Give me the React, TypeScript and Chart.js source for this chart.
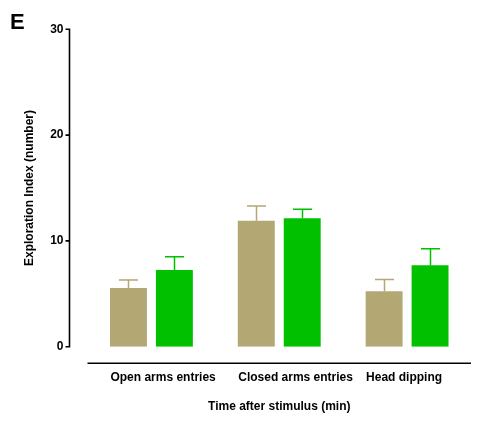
import React, { useEffect, useRef } from "react";
import { Chart, registerables } from "chart.js";

Chart.register(...registerables);

const categories = ["Open arms entries", "Closed arms entries", "Head dipping"];
const controlMeans = [5.55, 11.9, 5.25];
const controlErrors = [0.75, 1.4, 1.1];
const treatedMeans = [7.25, 12.15, 7.7];
const treatedErrors = [1.25, 0.85, 1.55];
const yTicks = [0, 10, 20, 30];

const TAN = "#B3A774";
const GREEN = "#00C000";
const FONT = "'Liberation Sans', Arial, Helvetica, sans-serif";

// Upward-only error bars with a cap, drawn over each bar.
const errorBarPlugin = {
  id: "errorBars",
  afterDatasetsDraw(chart: any) {
    const { ctx } = chart;
    const yScale = chart.scales.y;
    const errs = [controlErrors, treatedErrors];
    chart.data.datasets.forEach((ds: any, di: number) => {
      const meta = chart.getDatasetMeta(di);
      meta.data.forEach((bar: any, i: number) => {
        const v = ds.data[i];
        const top = yScale.getPixelForValue(v + errs[di][i]);
        const base = yScale.getPixelForValue(v);
        const x = Math.round(bar.x) + 0.5;
        ctx.save();
        ctx.strokeStyle = ds.backgroundColor;
        ctx.lineWidth = 1.5;
        ctx.beginPath();
        ctx.moveTo(x, base);
        ctx.lineTo(x, top);
        ctx.moveTo(x - 9.5, top);
        ctx.lineTo(x + 9.5, top);
        ctx.stroke();
        ctx.restore();
      });
    });
  },
};

// Offset axis lines (Prism style) and the panel letter.
const axesPlugin = {
  id: "offsetAxes",
  afterDraw(chart: any) {
    const { ctx, chartArea } = chart;
    const yScale = chart.scales.y;
    const ax = chartArea.left - 18;
    ctx.save();
    ctx.strokeStyle = "#000";
    ctx.lineWidth = 1.6;
    ctx.beginPath();
    ctx.moveTo(ax, yScale.getPixelForValue(30));
    ctx.lineTo(ax, yScale.getPixelForValue(0));
    yTicks.forEach((t) => {
      const py = yScale.getPixelForValue(t);
      ctx.moveTo(ax - 4, py);
      ctx.lineTo(ax + 0.8, py);
    });
    const xy = chartArea.bottom + 16.5;
    ctx.moveTo(chartArea.left, xy);
    ctx.lineTo(chartArea.right, xy);
    ctx.stroke();

    ctx.fillStyle = "#000";
    ctx.font = `bold 22px ${FONT}`;
    ctx.textAlign = "left";
    ctx.textBaseline = "alphabetic";
    ctx.fillText("E", 10, 29);
    ctx.restore();
  },
};

export default function App() {
  const canvasRef = useRef<HTMLCanvasElement | null>(null);

  useEffect(() => {
    const canvas = canvasRef.current;
    if (!canvas) return;
    const chart = new Chart(canvas, {
      type: "bar",
      data: {
        labels: categories,
        datasets: [
          {
            label: "Control",
            data: controlMeans,
            backgroundColor: TAN,
            borderWidth: 0,
            categoryPercentage: 0.71875,
            barPercentage: 0.804,
          },
          {
            label: "Stimulus",
            data: treatedMeans,
            backgroundColor: GREEN,
            borderWidth: 0,
            categoryPercentage: 0.71875,
            barPercentage: 0.804,
          },
        ],
      },
      options: {
        responsive: false,
        animation: false,
        events: [],
        layout: { padding: { top: 29.3, right: 18, bottom: 0, left: 0 } },
        plugins: {
          legend: { display: false },
          tooltip: { enabled: false },
        },
        scales: {
          x: {
            type: "category",
            offset: true,
            grid: { display: false, drawTicks: false },
            border: { display: false },
            ticks: {
              color: "#000",
              font: { family: FONT, size: 12, weight: "bold" },
              align: "start",
              labelOffset: -41,
              padding: 23.8,
              maxRotation: 0,
              autoSkip: false,
            },
            title: {
              display: true,
              text: "Time after stimulus (min)",
              color: "#000",
              font: { family: FONT, size: 12, weight: "bold" },
              padding: { top: 0, bottom: 8.1 },
            },
            afterFit(scale: any) {
              scale.height = 75.3;
              scale.paddingLeft = 0;
              scale.paddingRight = 0;
            },
          },
          y: {
            min: 0,
            max: 30,
            grid: { display: false, drawTicks: false },
            border: { display: false },
            afterBuildTicks(scale: any) {
              scale.ticks = yTicks.map((v) => ({ value: v }));
            },
            ticks: {
              color: "#000",
              font: { family: FONT, size: 12, weight: "bold" },
              padding: 24,
            },
            title: {
              display: true,
              text: "Exploration Index (number)",
              color: "#000",
              font: { family: FONT, size: 12, weight: "bold" },
              padding: { top: 22.8, bottom: 0 },
            },
            afterFit(scale: any) {
              scale.width = 87.5;
              scale.paddingTop = 0;
              scale.paddingBottom = 0;
            },
          },
        },
      },
      plugins: [errorBarPlugin, axesPlugin],
    } as any);
    return () => chart.destroy();
  }, []);

  return (
    <div style={{ position: "fixed", left: 0, top: 0, width: 489, height: 422, background: "#fff" }}>
      <canvas ref={canvasRef} width={489} height={422} style={{ display: "block" }} />
    </div>
  );
}
